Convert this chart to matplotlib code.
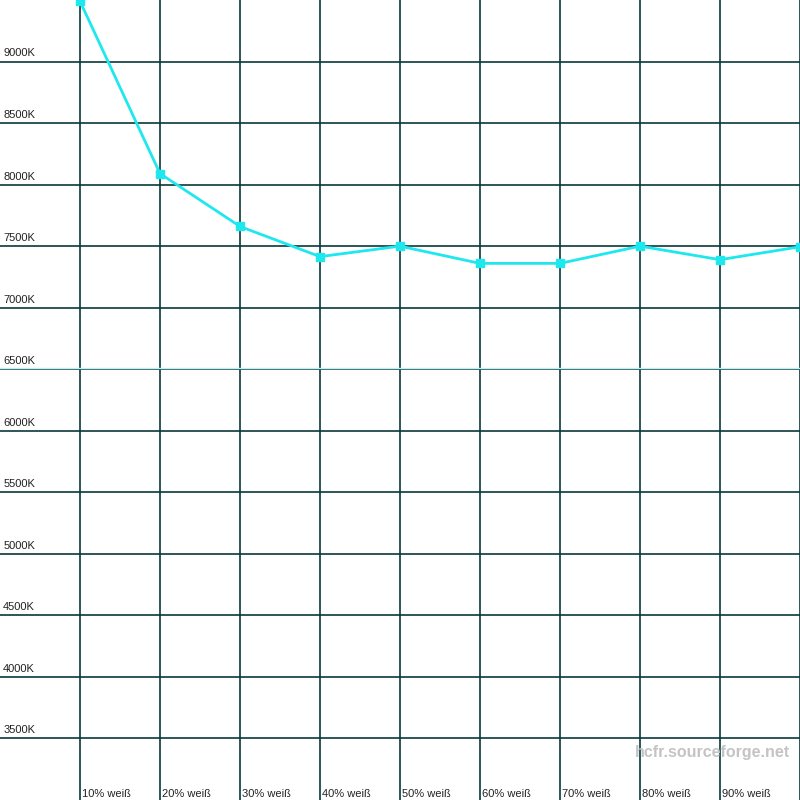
import matplotlib
matplotlib.use("Agg")
import matplotlib.pyplot as plt

# Farbtemperatur pro Graustufe
stufen = [1, 2, 3, 4, 5, 6, 7, 8, 9, 10]
stufen_labels = ["10% weiß", "20% weiß", "30% weiß", "40% weiß", "50% weiß",
                 "60% weiß", "70% weiß", "80% weiß", "90% weiß"]
temperatur = [9490, 8090, 7660, 7415, 7500, 7360, 7360, 7500, 7390, 7495]
y_ticks = [3500, 4000, 4500, 5000, 5500, 6000, 6500, 7000, 7500, 8000, 8500, 9000]

grid_farbe = "#0a3a3a"

fig = plt.figure(figsize=(8, 8), dpi=100)
ax = fig.add_axes([0, 0, 1, 1])
ax.set_xlim(0, 10)
ax.set_ylim(3000, 9500)
ax.axis("off")

# Gitter
for y in y_ticks:
    ax.axhline(y, color=grid_farbe, lw=1.2, zorder=1)
    ax.text(0.04, y + 25, f"{y}K", fontsize=8, family="Liberation Sans",
            color="#222222", ha="left", va="bottom")
for x in stufen:
    ax.axvline(x, color=grid_farbe, lw=1.2, zorder=1)
for x, lab in zip(stufen, stufen_labels):
    ax.text(x + 0.03, 3010, lab, fontsize=8, family="Liberation Sans",
            color="#222222", ha="left", va="bottom")

# Referenz 6500K
ax.axhline(6500 + 14, color="#bff0f0", lw=1, zorder=1)

# Messkurve
ax.plot(stufen, temperatur, color="#1ee8ee", lw=2, marker="s", ms=6,
        zorder=3, clip_on=False)

ax.text(9.88, 3390, "hcfr.sourceforge.net", fontsize=11.5, fontweight="bold",
        family="Liberation Sans", color="#c4c4c4", ha="right", va="center")

fig.savefig("out.png", dpi=100, facecolor="white")
